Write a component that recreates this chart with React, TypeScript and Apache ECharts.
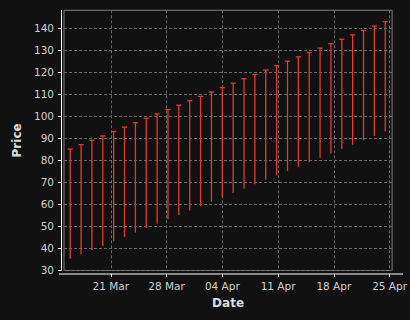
import React, { useEffect, useRef } from 'react';
import * as echarts from 'echarts';

// Bar dates (one OHLC-style bar each)
const dates = [
  '2024-03-15 21:36', '2024-03-17 06:20', '2024-03-18 15:04', '2024-03-19 23:48',
  '2024-03-21 08:33', '2024-03-22 17:17', '2024-03-24 02:01', '2024-03-25 10:45',
  '2024-03-26 19:29', '2024-03-28 04:13', '2024-03-29 12:58', '2024-03-30 21:42',
  '2024-04-01 06:26', '2024-04-02 15:10', '2024-04-03 23:54', '2024-04-05 08:38',
  '2024-04-06 17:23', '2024-04-08 02:07', '2024-04-09 10:51', '2024-04-10 19:35',
  '2024-04-12 04:19', '2024-04-13 13:03', '2024-04-14 21:48', '2024-04-16 06:32',
  '2024-04-17 15:16', '2024-04-19 00:00', '2024-04-20 08:44', '2024-04-21 17:28',
  '2024-04-23 02:12', '2024-04-24 10:57',
];
const lows = [
  35, 37, 39, 41, 43, 45, 47, 49, 51, 53,
  55, 57, 59, 61, 63, 65, 67, 69, 71, 73,
  75, 77, 79, 81, 83, 85, 87, 89, 91, 93,
];
const highs = [
  85, 87, 89, 91, 93, 95, 97, 99, 101, 103,
  105, 107, 109, 111, 113, 115, 117, 119, 121, 123,
  125, 127, 129, 131, 133, 135, 137, 139, 141, 143,
];
const xTicks = ['2024-03-21 00:00', '2024-03-28 00:00', '2024-04-04 00:00', '2024-04-11 00:00', '2024-04-18 00:00', '2024-04-25 00:00'];
const yTicks = [30, 40, 50, 60, 70, 80, 90, 100, 110, 120, 130, 140];
const xRange = ['2024-03-15 02:54', '2024-04-25 07:41'];
const yRange = [29.7, 148.2];
const months = ['Jan', 'Feb', 'Mar', 'Apr', 'May', 'Jun', 'Jul', 'Aug', 'Sep', 'Oct', 'Nov', 'Dec'];

const t = (s: string) => new Date(s.replace(' ', 'T')).getTime();
const BAR = '#e5392e';
const FONT = 'DejaVu Sans';

export default function App() {
  const ref = useRef<HTMLDivElement>(null);
  useEffect(() => {
    if (!ref.current) return;
    const chart = echarts.init(ref.current, null, { renderer: 'svg' });
    const data = dates.map((d, i) => [t(d), lows[i], highs[i]]);
    chart.setOption({
      animation: false,
      backgroundColor: '#111111',
      grid: {
        left: 64, right: 11.7, top: 10.3, bottom: 49.5,
        show: true, borderColor: '#808080', borderWidth: 1, backgroundColor: 'transparent',
      },
      xAxis: {
        type: 'value',
        min: t(xRange[0]),
        max: t(xRange[1]),
        offset: 3.5,
        name: 'Date',
        nameLocation: 'middle',
        nameGap: 23,
        nameTextStyle: { color: '#dddddd', fontFamily: FONT, fontSize: 12, fontWeight: 'bold' },
        axisLine: { show: false },
        axisTick: { show: true, length: 3, lineStyle: { color: '#ffffff' }, customValues: xTicks.map(t) },
        axisLabel: {
          customValues: xTicks.map(t),
          color: '#d0d0d0', fontFamily: FONT, fontSize: 10.5, margin: 6,
          formatter: (v: number) => {
            const d = new Date(v);
            return `${String(d.getDate()).padStart(2, '0')} ${months[d.getMonth()]}`;
          },
        },
        splitLine: { show: true, lineStyle: { color: '#6a6a6a', type: [3, 2], width: 1 } },
      },
      yAxis: {
        type: 'value',
        min: yRange[0],
        max: yRange[1],
        offset: 3,
        name: 'Price',
        nameLocation: 'middle',
        nameGap: 34,
        nameTextStyle: { color: '#dddddd', fontFamily: FONT, fontSize: 12, fontWeight: 'bold' },
        axisLine: { show: true, lineStyle: { color: '#ffffff', width: 1 } },
        axisTick: { show: true, length: 3, lineStyle: { color: '#ffffff' }, customValues: yTicks },
        axisLabel: { customValues: yTicks, color: '#d0d0d0', fontFamily: FONT, fontSize: 10.5, margin: 7 },
        splitLine: { show: true, lineStyle: { color: '#6a6a6a', type: [3, 2], width: 1 } },
      },
      graphic: [
        { type: 'line', shape: { x1: 59, y1: 274, x2: 403, y2: 274 }, style: { stroke: '#ffffff', lineWidth: 1 }, z: 10 },
      ],
      series: [
        {
          type: 'custom',
          data,
          encode: { x: 0, y: [1, 2] },
          renderItem: (params: any, api: any) => {
            const x = api.value(0);
            const top = api.coord([x, api.value(2)]);
            const bot = api.coord([x, api.value(1)]);
            const style = { stroke: BAR, lineWidth: 1.3 };
            return {
              type: 'group',
              children: [
                { type: 'line', shape: { x1: top[0], y1: top[1], x2: bot[0], y2: bot[1] }, style },
                { type: 'line', shape: { x1: top[0] - 2.6, y1: top[1], x2: top[0] + 2.6, y2: top[1] }, style },
              ],
            };
          },
        },
      ],
    });
    return () => chart.dispose();
  }, []);
  return <div ref={ref} style={{ position: 'fixed', left: 0, top: 0, width: 410, height: 320 }} />;
}
